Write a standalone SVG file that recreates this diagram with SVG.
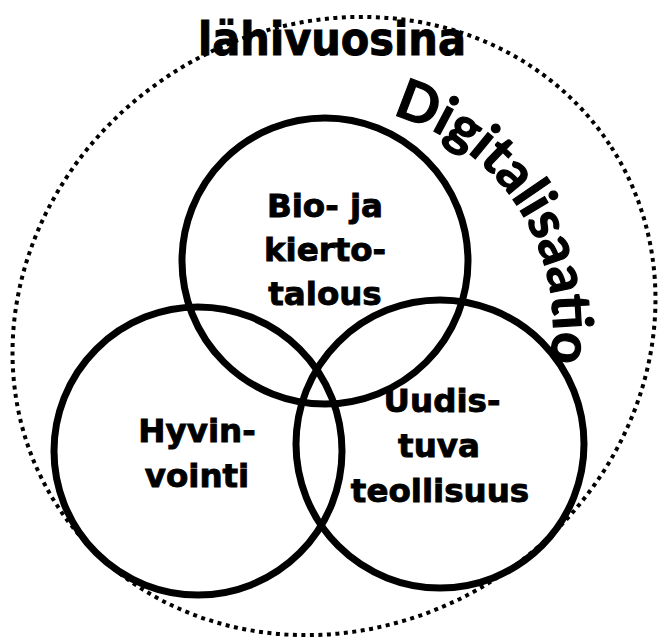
<svg xmlns="http://www.w3.org/2000/svg" width="659" height="639" viewBox="0 0 659 639">
<style>
.ring{fill:none;stroke:#000;stroke-width:7}
.lbl{font-family:"DejaVu Sans",Verdana,sans-serif;font-weight:bold;font-size:32.5px;fill:#000;stroke:#000;stroke-width:0.9;text-anchor:middle}
.dig{font-family:Lato,"Open Sans",sans-serif;font-weight:bold;font-size:55px;fill:#000;stroke:#000;stroke-width:1.2}
</style>
<defs>
<path id="arc" d="M 392.2 114.9 A 219 219 0 0 1 539.8 400.9"/>
</defs>
<rect width="659" height="639" fill="#fff"/>
<g id="outer">
<ellipse cx="334" cy="326" rx="330" ry="300" transform="rotate(-32.8 334 326)" fill="none" stroke="#000" stroke-width="4" stroke-dasharray="4 4.5"/>
</g>
<g id="title">
<text x="198" y="55" font-family="DejaVu Sans,Verdana,sans-serif" font-weight="bold" font-size="46" stroke="#000" stroke-width="1" textLength="268" lengthAdjust="spacingAndGlyphs">lähivuosina</text>
</g>
<g id="digitalisaatio">
<text class="dig"><textPath href="#arc">Digitalisaatio</textPath></text>
</g>
<g id="bio">
<circle class="ring" cx="325" cy="261" r="143"/>
<text class="lbl" x="325" y="217">Bio- ja</text>
<text class="lbl" x="325" y="261">kierto-</text>
<text class="lbl" x="325" y="305">talous</text>
</g>
<g id="hyvinvointi">
<circle class="ring" cx="198" cy="451" r="144"/>
<text class="lbl" x="197" y="442">Hyvin-</text>
<text class="lbl" x="197" y="487">vointi</text>
</g>
<g id="teollisuus">
<circle class="ring" cx="440" cy="444" r="144"/>
<text class="lbl" x="442" y="412">Uudis-</text>
<text class="lbl" x="439" y="457">tuva</text>
<text class="lbl" x="440" y="502">teollisuus</text>
</g>
<g id="connectors"/>
</svg>
